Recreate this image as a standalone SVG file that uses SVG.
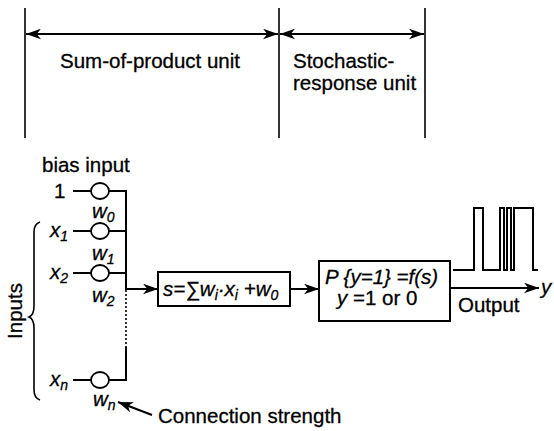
<svg xmlns="http://www.w3.org/2000/svg" width="554" height="431" viewBox="0 0 554 431">
<defs>
<style>
text{font-family:"Liberation Sans",Arial,Helvetica,sans-serif;font-size:20.5px;fill:#000;stroke:#000;stroke-width:0.3}
.it{font-style:italic}
.sub{font-size:14px}
.ln{stroke:#000;stroke-width:2;fill:none}
.thin{stroke:#000;stroke-width:1.6;fill:none}
.box{stroke:#000;stroke-width:2;fill:#fff}
.node{stroke:#000;stroke-width:1.8;fill:#fff}
</style>
<marker id="arr" viewBox="0 0 14 10" refX="14" refY="5" markerWidth="15" markerHeight="11" markerUnits="userSpaceOnUse" orient="auto-start-reverse">
<path d="M0,0 L14,5 L0,10 L4,5 Z" fill="#000"/>
</marker>
</defs>
<rect width="554" height="431" fill="#fff"/>

<g id="dimensions">
<line class="thin" x1="25" y1="8" x2="25" y2="138"/>
<line class="thin" x1="279" y1="8" x2="279" y2="138"/>
<line class="thin" x1="425" y1="8" x2="425" y2="138"/>
<line class="ln" x1="26" y1="34" x2="278" y2="34" marker-start="url(#arr)" marker-end="url(#arr)"/>
<line class="ln" x1="280" y1="34" x2="424" y2="34" marker-start="url(#arr)" marker-end="url(#arr)"/>
<text x="60" y="68">Sum-of-product unit</text>
<text x="293" y="68">Stochastic-</text>
<text x="293" y="90">response unit</text>
</g>

<g id="connectors">
<line class="ln" x1="73" y1="191" x2="91" y2="191"/>
<line class="ln" x1="73" y1="231" x2="91" y2="231"/>
<line class="ln" x1="73" y1="273" x2="91" y2="273"/>
<line class="ln" x1="73" y1="380" x2="91" y2="380"/>
<path class="ln" d="M109,191 H126 V290"/>
<line class="ln" x1="109" y1="231" x2="126" y2="231"/>
<line class="ln" x1="109" y1="273" x2="126" y2="273"/>
<line class="thin" x1="126" y1="290" x2="126" y2="347" stroke-dasharray="2,2"/>
<path class="ln" d="M126,347 V380 H109"/>
<line class="ln" x1="126" y1="289" x2="158" y2="289" marker-end="url(#arr)"/>
<line class="ln" x1="290" y1="289" x2="319" y2="289" marker-end="url(#arr)"/>
<line class="ln" x1="450" y1="288" x2="539" y2="288" marker-end="url(#arr)"/>
<line class="ln" x1="152" y1="415" x2="118" y2="402" marker-end="url(#arr)"/>
</g>

<g id="bias">
<text x="42" y="172">bias input</text>
<text x="54" y="198">1</text>
<ellipse class="node" cx="100" cy="191" rx="9" ry="8"/>
<text x="92" y="218" class="it">w<tspan class="sub" dy="4">0</tspan></text>
</g>

<g id="input1">
<text x="50" y="237" class="it">x<tspan class="sub" dy="4">1</tspan></text>
<ellipse class="node" cx="100" cy="231" rx="9" ry="8"/>
<text x="92" y="260" class="it">w<tspan class="sub" dy="4">1</tspan></text>
</g>

<g id="input2">
<text x="50" y="279" class="it">x<tspan class="sub" dy="4">2</tspan></text>
<ellipse class="node" cx="100" cy="273" rx="9" ry="8"/>
<text x="92" y="302" class="it">w<tspan class="sub" dy="4">2</tspan></text>
</g>

<g id="inputn">
<text x="50" y="386" class="it">x<tspan class="sub" dy="4">n</tspan></text>
<ellipse class="node" cx="100" cy="380" rx="9" ry="8"/>
<text x="93" y="406" class="it">w<tspan class="sub" dy="4">n</tspan></text>
</g>

<g id="inputs-brace">
<path class="thin" d="M40,222 Q34,224 34,232 V306 Q34,315 29,317 Q34,319 34,328 V390 Q34,398 40,400"/>
<text transform="translate(22,311) rotate(-90)" text-anchor="middle">Inputs</text>
</g>

<g id="sum-unit">
<rect class="box" x="158" y="272" width="132" height="34"/>
<text x="163" y="296" class="it">s=∑w<tspan class="sub" dy="4">i</tspan><tspan dy="-4">·x</tspan><tspan class="sub" dy="4">i</tspan><tspan dy="-4"> +w</tspan><tspan class="sub" dy="4">0</tspan></text>
</g>

<g id="stochastic-unit">
<rect class="box" x="319" y="261" width="131" height="60"/>
<text x="325" y="284" class="it">P {y=1} =f(s)</text>
<text x="337" y="305"><tspan class="it">y</tspan> =1 or 0</text>
</g>

<g id="output">
<path class="ln" d="M453,270 H474 V208 H483 V270 H500 V208 H504 V270 H507 V208 H511 V270 H514 V208 H533 V270 H538"/>
<text x="458" y="312">Output</text>
<text x="541" y="294" class="it">y</text>
</g>

<g id="connection-strength">
<text x="158" y="423">Connection strength</text>
</g>
</svg>
